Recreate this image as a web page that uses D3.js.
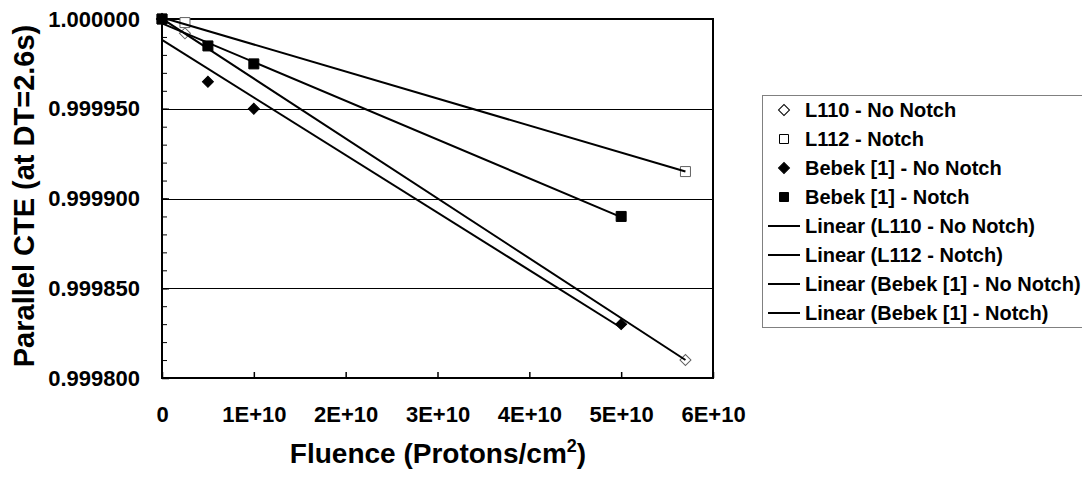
<!DOCTYPE html>
<html>
<head>
<meta charset="utf-8">
<script src="https://cdn.jsdelivr.net/npm/d3@7"></script>
<style>
  body { margin: 0; background: #fff; }
  text { font-family: "Liberation Sans", Arial, sans-serif; font-weight: bold; fill: #000; }
</style>
</head>
<body>
<script>
// series (fluence, CTE)
const l110X = [0, 2.5e9, 5.7e10];
const l110Y = [1.0, 0.999992, 0.99981];
const l112X = [0, 2.5e9, 5.7e10];
const l112Y = [1.0, 0.999998, 0.999915];
const bebekNoX = [0, 5e9, 1e10, 5e10];
const bebekNoY = [1.0, 0.999965, 0.99995, 0.99983];
const bebekNotchX = [0, 5e9, 1e10, 5e10];
const bebekNotchY = [1.0, 0.999985, 0.999975, 0.99989];

const yTicks = [0.9998, 0.99985, 0.9999, 0.99995, 1.0];
const xTicks = [0, 1e10, 2e10, 3e10, 4e10, 5e10, 6e10];

const series = [
  {name: 'L110 - No Notch', xs: l110X, ys: l110Y, shape: 'diamond', fill: false},
  {name: 'L112 - Notch', xs: l112X, ys: l112Y, shape: 'square', fill: false},
  {name: 'Bebek [1] - No Notch', xs: bebekNoX, ys: bebekNoY, shape: 'diamond', fill: true},
  {name: 'Bebek [1] - Notch', xs: bebekNotchX, ys: bebekNotchY, shape: 'square', fill: true}
];

const W = 1082, H = 477;
const plotL = 162, plotR = 713, plotT = 19, plotB = 378;

const svg = d3.select('body').append('svg')
  .attr('width', W).attr('height', H);

const x = d3.scaleLinear().domain([0, 6e10]).range([plotL, plotR]);
const y = d3.scaleLinear().domain([0.9998, 1.0]).range([plotB, plotT]);

// gridlines
svg.append('g')
  .selectAll('line')
  .data(yTicks.slice(1))
  .enter().append('line')
    .attr('x1', plotL).attr('x2', plotR)
    .attr('y1', d => Math.round(y(d)) + 0.5)
    .attr('y2', d => Math.round(y(d)) + 0.5)
    .attr('stroke', '#000').attr('stroke-width', 1);

// plot border
svg.append('rect')
  .attr('x', plotL).attr('y', plotT)
  .attr('width', plotR - plotL).attr('height', plotB - plotT)
  .attr('fill', 'none').attr('stroke', '#000').attr('stroke-width', 2);

// minor y ticks, pointing into the plot
const minor = d3.range(0, 21).map(i => 0.9998 + i * 1e-5);
svg.append('g')
  .attr('transform', `translate(${plotL},0)`)
  .call(d3.axisLeft(y).tickValues(minor).tickSize(-5).tickFormat(''))
  .call(g => g.select('.domain').remove());

svg.append('g')
  .attr('transform', `translate(${plotL},0)`)
  .call(d3.axisLeft(y).tickValues(yTicks).tickSizeInner(-7).tickSizeOuter(0)
    .tickFormat(d3.format('.6f')))
  .call(g => g.select('.domain').remove())
  .call(g => g.selectAll('text').attr('font-size', 22).attr('x', -22))
  .call(g => g.selectAll('line').attr('stroke-width', 1.5));

svg.append('g')
  .attr('transform', `translate(0,${plotB})`)
  .call(d3.axisBottom(x).tickValues(xTicks).tickSizeInner(-6).tickSizeOuter(0)
    .tickFormat(d => d === 0 ? '0' : (d / 1e10) + 'E+10'))
  .call(g => g.select('.domain').remove())
  .call(g => g.selectAll('text').attr('font-size', 22).attr('y', 28))
  .call(g => g.selectAll('line').attr('stroke-width', 1.5));

// linear trend lines (least squares over each series)
function fit(xs, ys) {
  const mx = d3.mean(xs), my = d3.mean(ys);
  const sxy = d3.sum(xs, (v, i) => (v - mx) * (ys[i] - my));
  const sxx = d3.sum(xs, v => (v - mx) * (v - mx));
  const b = sxy / sxx;
  return {b: b, a: my - b * mx};
}

const line = d3.line().x(d => x(d[0])).y(d => y(d[1]));

function marker(shape, size) {
  if (shape === 'square') return d3.symbol(d3.symbolSquare, size * size)();
  return d3.symbol(d3.symbolSquare, size * size / 2)();
}

series.forEach(s => {
  const g = svg.append('g');
  g.selectAll('path')
    .data(s.xs.map((v, i) => [v, s.ys[i]]))
    .enter().append('path')
      .attr('d', marker(s.shape, s.shape === 'square' ? 10 : 11))
      .attr('transform', d => `translate(${x(d[0])},${y(d[1])})` + (s.shape === 'diamond' ? ' rotate(45)' : ''))
      .attr('fill', s.fill ? '#000' : '#fff')
      .attr('stroke', s.fill ? '#000' : '#606060')
      .attr('stroke-width', 1);
});

series.forEach(s => {
  const f = fit(s.xs, s.ys);
  const x0 = d3.min(s.xs), x1 = d3.max(s.xs);
  svg.append('path')
    .attr('d', line([[x0, f.a + f.b * x0], [x1, f.a + f.b * x1]]))
    .attr('fill', 'none').attr('stroke', '#000').attr('stroke-width', 2);
});

// axis titles
svg.append('text')
  .attr('transform', 'translate(34,196) rotate(-90)')
  .attr('text-anchor', 'middle')
  .attr('font-size', 29)
  .text('Parallel CTE (at DT=2.6s)');

const xt = svg.append('text')
  .attr('x', 438).attr('y', 463)
  .attr('text-anchor', 'middle')
  .attr('font-size', 28);
xt.append('tspan').text('Fluence (Protons/cm');
xt.append('tspan').attr('font-size', 18).attr('dy', -11).text('2');
xt.append('tspan').attr('dy', 11).text(')');

// legend
const legendItems = series.map(s => ({label: s.name, s: s}))
  .concat(series.map(s => ({label: 'Linear (' + s.name + ')', s: null})));

const lg = svg.append('g');
lg.append('rect')
  .attr('x', 762.5).attr('y', 95.5)
  .attr('width', 330).attr('height', 232)
  .attr('fill', '#fff').attr('stroke', '#808080').attr('stroke-width', 1);

const rowH = 29, row0 = 110;
legendItems.forEach((it, i) => {
  const cy = row0 + i * rowH;
  if (it.s) {
    lg.append('path')
      .attr('d', marker(it.s.shape, it.s.shape === 'square' ? 9 : 11))
      .attr('transform', `translate(784,${cy})` + (it.s.shape === 'diamond' ? ' rotate(45)' : ''))
      .attr('fill', it.s.fill ? '#000' : '#fff')
      .attr('stroke', '#000')
      .attr('stroke-width', 1);
  } else {
    lg.append('line')
      .attr('x1', 768).attr('x2', 800)
      .attr('y1', cy).attr('y2', cy)
      .attr('stroke', '#000').attr('stroke-width', 2);
  }
  lg.append('text')
    .attr('x', 805).attr('y', cy + 7)
    .attr('font-size', 20)
    .text(it.label);
});
</script>
</body>
</html>
